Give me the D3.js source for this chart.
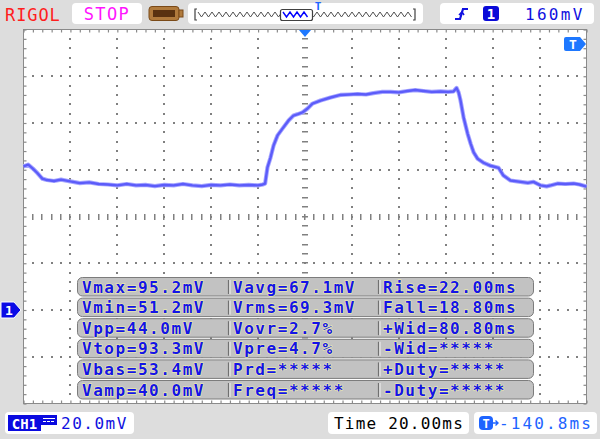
<!DOCTYPE html>
<html><head><meta charset="utf-8">
<script src="https://cdn.jsdelivr.net/npm/d3@7"></script>
<style>body{margin:0;background:#dddddd;overflow:hidden}svg{display:block}</style>
</head><body><svg id="c" width="600" height="439"></svg>
<script>
// ---- data ----
const timeMs = [-120,-118,-116,-114,-112,-110,-107,-104,-100,-96,-92,-88,-84,-80,-76,-72,-68,-64,-60,-56,-52,-48,-44,-40,-36,-32,-28,-24,-20,-18,-17,-16,-14.7,-13.4,-11.7,-9.6,-7,-4.9,-3,-1.1,1.1,3.2,6.6,10.9,15.1,19,22.4,26,29.2,33,36.5,40,43.7,47,50.5,54,57.8,61,63.3,64.6,65.5,66.3,67.6,69.3,70.6,71.9,73.6,76.1,79.1,82.5,84.6,87.6,91.9,95,97.4,100.4,103,104.7,107.7,111,114.5,117,120];
const voltMv = [61.4,62.2,60.5,58.5,56.2,55.6,55.2,55.8,55.0,54.3,54.6,53.9,53.7,53.3,53.9,53.3,53.5,53.0,53.5,53.3,53.9,53.3,53.0,53.5,53.3,53.7,53.3,53.5,53.3,53.7,54.1,61.0,65.2,70.4,74.7,77.6,81.1,83.2,83.8,84.5,86.2,88.3,89.6,90.9,92.0,92.2,92.4,92.2,92.8,93.3,93.3,93.1,93.7,94.1,93.7,93.3,93.5,93.3,93.5,95.0,93.0,89.6,82.4,75.5,71.2,67.4,64.7,63.0,61.7,60.8,57.5,55.4,54.8,54.4,54.8,53.3,52.9,53.3,54.1,53.9,54.1,53.7,52.8];
const timeDomain = [-120, 120];      // 12 div x 20 ms
const voltDomain = [-40, 120];       // 8 div x 20 mV
const divTime = 20, divVolt = 20;
const measCol1 = ["Vmax=95.2mV","Vmin=51.2mV","Vpp=44.0mV","Vtop=93.3mV","Vbas=53.4mV","Vamp=40.0mV"];
const measCol2 = ["Vavg=67.1mV","Vrms=69.3mV","Vovr=2.7%","Vpre=4.7%","Prd=*****","Freq=*****"];
const measCol3 = ["Rise=22.00ms","Fall=18.80ms","+Wid=80.80ms","-Wid=*****","+Duty=*****","-Duty=*****"];
const headerLabels = {brand:"RIGOL", state:"STOP", trigLevel:"160mV", trigCh:"1"};
const footerLabels = {ch:"CH1", vscale:"20.0mV", tscale:"Time 20.00ms", offset:"-140.8ms"};

// ---- drawing ----
const svg = d3.select("#c");
const MONO = "'DejaVu Sans Mono', 'Liberation Mono', monospace";
svg.append("rect").attr("width",600).attr("height",439).attr("fill","#dddddd");

const x = d3.scaleLinear().domain(timeDomain).range([23.5, 586.5]);
const y = d3.scaleLinear().domain(voltDomain).range([403.5, 29.5]);

// plot area
svg.append("rect").attr("x",x(timeDomain[0])).attr("y",y(voltDomain[1]))
  .attr("width",x(timeDomain[1])-x(timeDomain[0])).attr("height",y(voltDomain[0])-y(voltDomain[1]))
  .attr("fill","#ffffff").attr("stroke","#8a8a8a").attr("stroke-width",1);

const grid = svg.append("g").attr("fill","#808080");
const minorT = d3.range(timeDomain[0], timeDomain[1]+0.01, divTime/5);
const minorV = d3.range(voltDomain[0], voltDomain[1]+0.01, divVolt/5);
const majT = d3.range(timeDomain[0]+divTime, timeDomain[1], divTime);
const majV = d3.range(voltDomain[0]+divVolt, voltDomain[1], divVolt);
const midT = 0, midV = 40;
majT.filter(t=>t!==midT).forEach(t=>{
  minorV.slice(1,-1).forEach(v=>grid.append("rect").attr("x",Math.round(x(t))-1).attr("y",Math.round(y(v))-1).attr("width",2).attr("height",2));
});
majV.filter(v=>v!==midV).forEach(v=>{
  minorT.slice(1,-1).forEach(t=>grid.append("rect").attr("x",Math.round(x(t))-1).attr("y",Math.round(y(v))-1).attr("width",2).attr("height",2));
});
// centre axes with ticks
minorV.slice(1,-1).forEach(v=>grid.append("rect").attr("x",Math.round(x(midT))-3).attr("y",Math.round(y(v))-1).attr("width",6).attr("height",1.5));
minorT.slice(1,-1).forEach(t=>grid.append("rect").attr("x",Math.round(x(t))-1).attr("y",Math.round(y(midV))-3).attr("width",1.5).attr("height",6));

// border ticks via axes
function tickAxis(ax){ return g=>{ g.call(ax); g.select(".domain").remove(); g.selectAll("line").attr("stroke","#8a8a8a").attr("stroke-width",1.2);} }
svg.append("g").attr("transform",`translate(${x(timeDomain[0])},0)`).call(tickAxis(d3.axisLeft(y).tickValues(minorV).tickSize(-3).tickFormat("")));
svg.append("g").attr("transform",`translate(${x(timeDomain[1])},0)`).call(tickAxis(d3.axisRight(y).tickValues(minorV).tickSize(-3).tickFormat("")));
svg.append("g").attr("transform",`translate(0,${y(voltDomain[1])})`).call(tickAxis(d3.axisTop(x).tickValues(minorT).tickSize(-3).tickFormat("")));
svg.append("g").attr("transform",`translate(0,${y(voltDomain[0])})`).call(tickAxis(d3.axisBottom(x).tickValues(minorT).tickSize(-3).tickFormat("")));

// trace
const pts = timeMs.map((t,i)=>[t, voltMv[i]]);
const line = d3.line().x(d=>x(d[0])).y(d=>y(d[1]));
svg.append("path").datum(pts).attr("d",line).attr("fill","none").attr("stroke","#a6a6ff").attr("stroke-width",4.2).attr("stroke-linejoin","round");
svg.append("path").datum(pts).attr("d",line).attr("fill","none").attr("stroke","#5c5cfa").attr("stroke-width",2.4).attr("stroke-linejoin","round");

// measurement table
const tbl = svg.append("g");
const rowTop = i => 277 + i*20.6;
measCol1.forEach((_,i)=>{
  const ty = rowTop(i);
  tbl.append("rect").attr("x",77.5).attr("y",ty+0.5).attr("width",456).attr("height",18.5).attr("rx",5)
    .attr("fill","#c2c2c2").attr("stroke","#7c7c7c").attr("stroke-width",1);
  [228.5, 378.5].forEach(sx=>{
    tbl.append("line").attr("x1",sx).attr("x2",sx).attr("y1",ty+3).attr("y2",ty+17).attr("stroke","#707070").attr("stroke-width",1.2);
    tbl.append("line").attr("x1",sx+1.5).attr("x2",sx+1.5).attr("y1",ty+3).attr("y2",ty+17).attr("stroke","#f2f2f2").attr("stroke-width",1);
  });
  [[measCol1,82],[measCol2,233],[measCol3,383]].forEach(([col,tx])=>{
    tbl.append("text").attr("x",tx).attr("y",ty+15.5).text(col[i])
      .attr("font-family",MONO).attr("font-size",16).attr("font-weight","bold").attr("letter-spacing",1.55)
      .attr("fill","#1414e6").attr("stroke","#f3f3a6").attr("stroke-width",1.1).attr("paint-order","stroke");
  });
});

// ---- header ----
svg.append("text").attr("x",5).attr("y",21).text(headerLabels.brand)
  .attr("font-family",MONO).attr("font-size",17).attr("letter-spacing",0.9).attr("fill","#ff1e1e");
svg.append("rect").attr("x",72).attr("y",3).attr("width",70).attr("height",21).attr("rx",4).attr("fill","#ffffff");
svg.append("text").attr("x",107).attr("y",20).attr("text-anchor","middle").text(headerLabels.state)
  .attr("font-family",MONO).attr("font-size",17).attr("letter-spacing",1.4).attr("fill","#ff14ff");
// battery-like icon
svg.append("rect").attr("x",149).attr("y",6.5).attr("width",30).attr("height",14).attr("rx",3).attr("fill","#b07a3c").attr("stroke","#7a4a18");
svg.append("rect").attr("x",153).attr("y",10).attr("width",22).attr("height",7).attr("fill","#5a3210");
svg.append("rect").attr("x",179).attr("y",10).attr("width",4).attr("height",7).attr("fill","#b07a3c").attr("stroke","#7a4a18");
// memory bar
svg.append("rect").attr("x",188).attr("y",3).attr("width",235).attr("height",21).attr("rx",4).attr("fill","#ffffff");
function zig(x0,x1,yc,amp,per){ const p=[]; for(let xx=x0,k=0; xx<=x1; xx+=per/2,k++) p.push([xx, yc+(k%2?amp:-amp)]); return d3.line()(p); }
svg.append("path").attr("d",zig(198,414,14.5,2.5,7)).attr("fill","none").attr("stroke","#505050").attr("stroke-width",1);
svg.append("path").attr("d","M197,9 h-2 v11 h2 M413,9 h2 v11 h-2").attr("fill","none").attr("stroke","#404040").attr("stroke-width",1.2);
svg.append("rect").attr("x",280.5).attr("y",9.5).attr("width",32).attr("height",11).attr("rx",2).attr("fill","#ffffff").attr("stroke","#404040").attr("stroke-width",1.2);
svg.append("path").attr("d",zig(283,310,14.5,2.5,7)).attr("fill","none").attr("stroke","#0000ff").attr("stroke-width",1.4);
svg.append("text").attr("x",x(0)+13).attr("y",10).attr("text-anchor","middle").text("T")
  .attr("font-family",MONO).attr("font-weight","bold").attr("font-size",11).attr("fill","#1e64ff");
// trigger position triangle
svg.append("path").attr("d",`M${x(0)-6},30 h12 l-6,7 z`).attr("fill","#1e78ff");
// right header box
svg.append("rect").attr("x",440).attr("y",3).attr("width",154).attr("height",21).attr("rx",4).attr("fill","#ffffff");
svg.append("path").attr("d","M455,19 h5 l3,-10 h5").attr("fill","none").attr("stroke","#1010e0").attr("stroke-width",2.2);
svg.append("path").attr("d","M459,15 l3,-3 l2,3").attr("fill","none").attr("stroke","#1010e0").attr("stroke-width",1.6);
svg.append("rect").attr("x",483).attr("y",6).attr("width",16).attr("height",15).attr("rx",3).attr("fill","#0a0ad8");
svg.append("text").attr("x",491).attr("y",19).attr("text-anchor","middle").text(headerLabels.trigCh)
  .attr("font-family",MONO).attr("font-weight","bold").attr("font-size",14).attr("fill","#ffffff");
svg.append("text").attr("x",525).attr("y",20).text(headerLabels.trigLevel)
  .attr("font-family",MONO).attr("font-size",16).attr("letter-spacing",2.3).attr("fill","#1010e0");

// right trigger-offset marker
svg.append("path").attr("d","M566,37 h14 l6,7 l-6,7 h-14 q-2,0 -2,-2 v-10 q0,-2 2,-2 z").attr("fill","#1e78ff");
svg.append("text").attr("x",573).attr("y",49).attr("text-anchor","middle").text("T")
  .attr("font-family",MONO).attr("font-weight","bold").attr("font-size",13).attr("fill","#ffffff");
// channel ground marker
const gy = y(0);
svg.append("path").attr("d",`M1,${gy-8} h13 l7,8 l-7,8 h-13 z`).attr("fill","#0a0ae6").attr("stroke","#ffffff").attr("stroke-width",1);
svg.append("text").attr("x",9).attr("y",gy+5).attr("text-anchor","middle").text("1")
  .attr("font-family",MONO).attr("font-weight","bold").attr("font-size",13).attr("fill","#ffffff");

// ---- footer ----
const FS = 16, LS = 1.2;
svg.append("rect").attr("x",5).attr("y",412).attr("width",129).attr("height",22).attr("rx",4).attr("fill","#ffffff");
svg.append("rect").attr("x",8).attr("y",415).attr("width",33).attr("height",16).attr("fill","#0a0ae0");
svg.append("text").attr("x",24.5).attr("y",428.5).attr("text-anchor","middle").text(footerLabels.ch)
  .attr("font-family",MONO).attr("font-weight","bold").attr("font-size",14).attr("fill","#ffffff");
svg.append("rect").attr("x",41).attr("y",415).attr("width",16).attr("height",10).attr("fill","#0a0ae0");
svg.append("path").attr("d","M43,418.5 h12 M43,421.5 h3 M47,421.5 h3 M51,421.5 h3").attr("stroke","#ffffff").attr("stroke-width",1.2);
svg.append("text").attr("x",61).attr("y",429).text(footerLabels.vscale)
  .attr("font-family",MONO).attr("font-size",FS).attr("letter-spacing",LS+0.3).attr("fill","#1010e0");

svg.append("rect").attr("x",328).attr("y",412).attr("width",141).attr("height",22).attr("rx",4).attr("fill","#ffffff");
svg.append("text").attr("x",334).attr("y",429).text(footerLabels.tscale)
  .attr("font-family",MONO).attr("font-size",FS).attr("letter-spacing",LS).attr("fill","#000000");

svg.append("rect").attr("x",474).attr("y",412).attr("width",123).attr("height",22).attr("rx",4).attr("fill","#ffffff");
svg.append("rect").attr("x",479).attr("y",416).attr("width",14).attr("height",14).attr("rx",4).attr("fill","#1e64ff");
svg.append("text").attr("x",486).attr("y",427.5).attr("text-anchor","middle").text("T")
  .attr("font-family",MONO).attr("font-weight","bold").attr("font-size",12).attr("fill","#ffffff");
svg.append("path").attr("d","M493,423 h5 M495.5,420.5 l2.5,2.5 l-2.5,2.5").attr("fill","none").attr("stroke","#1e64ff").attr("stroke-width",1.4);
svg.append("text").attr("x",499).attr("y",429).text(footerLabels.offset)
  .attr("font-family",MONO).attr("font-size",FS).attr("letter-spacing",LS+0.9).attr("fill","#1e64ff");
</script>
</body></html>
